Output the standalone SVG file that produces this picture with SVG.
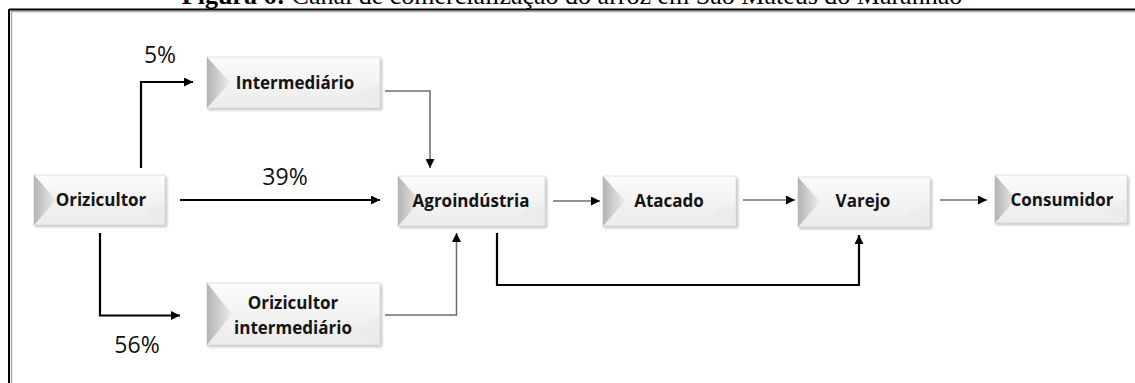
<svg xmlns="http://www.w3.org/2000/svg" width="1135" height="383" viewBox="0 0 1135 383">
<style>
.frame{stroke:#000;stroke-width:2;fill:none}
.frame2{stroke:#aaa;stroke-width:1.5;fill:none}
.title{font-family:"Liberation Serif","Times New Roman",serif;font-size:26px;fill:#000;text-anchor:middle}
.face{fill:url(#face);stroke:#dcdcdc;stroke-width:0.8}
.bevL{fill:url(#bevL)}
.bevR{fill:#e6e6e6;opacity:0.4}
.shadow{fill:#8c8c8c;opacity:0.55;filter:url(#blur)}
.lbl{font-family:"Open Sans","Liberation Sans",sans-serif;font-weight:bold;font-size:17px;fill:#141414;text-anchor:middle}
.pct{font-family:"Open Sans","Liberation Sans",sans-serif;font-size:23px;fill:#111;text-anchor:middle}
.bk{stroke:#000;stroke-width:2.2;fill:none;marker-end:url(#ah)}
.gr{stroke:#6e6e6e;stroke-width:1.5;fill:none;marker-end:url(#ah)}
</style>
<defs>
<linearGradient id="face" x1="0" y1="0" x2="0" y2="1">
<stop offset="0" stop-color="#fbfbfb"/><stop offset="1" stop-color="#ebebeb"/>
</linearGradient>
<linearGradient id="bevL" x1="0" y1="0" x2="1" y2="0">
<stop offset="0" stop-color="#b4b4b4"/><stop offset="1" stop-color="#ececec"/>
</linearGradient>
<filter id="blur" x="-10%" y="-20%" width="120%" height="150%"><feGaussianBlur stdDeviation="1.5"/></filter>
<marker id="ah" viewBox="0 0 10 10" refX="10" refY="5" markerWidth="11" markerHeight="9" markerUnits="userSpaceOnUse" orient="auto">
<path d="M0,0 L10,5 L0,10 z" fill="#000"/>
</marker>
</defs>
<rect width="1135" height="383" fill="#fff"/>
<text class="title" x="572" y="4"><tspan font-weight="bold">Figura 6:</tspan> Canal de comercialização do arroz em São Mateus do Maranhão</text>
<path class="frame2" d="M11,11.5 H1135 M11.5,11 V383"/>
<path class="frame" d="M9,9.5 H1135 M9,9 V383"/>

<g id="orizicultor">
<rect class="shadow" x="35" y="177" width="132" height="50"/>
<rect class="face" x="34" y="175" width="131" height="50"/>
<polygon class="bevL" points="34,175 56,200 34,225"/>
<polygon class="bevR" points="165,225 143,210 165,200"/>
<text class="lbl" x="101" y="206">Orizicultor</text>
</g>
<g id="intermediario">
<rect class="shadow" x="208" y="59" width="174" height="51"/>
<rect class="face" x="207" y="57" width="173" height="51"/>
<polygon class="bevL" points="207,57 230,82.5 207,108"/>
<polygon class="bevR" points="380,108 356,94 380,84"/>
<text class="lbl" x="295" y="89">Intermediário</text>
</g>
<g id="orizicultor-intermediario">
<rect class="shadow" x="208" y="285" width="174" height="62"/>
<rect class="face" x="207" y="283" width="173" height="62"/>
<polygon class="bevL" points="207,283 232,314 207,345"/>
<polygon class="bevR" points="380,345 354,328 380,316"/>
<text class="lbl" x="293" y="309">Orizicultor</text>
<text class="lbl" x="293" y="334">intermediário</text>
</g>
<g id="agroindustria">
<rect class="shadow" x="399" y="178" width="148" height="50"/>
<rect class="face" x="398" y="176" width="147" height="50"/>
<polygon class="bevL" points="398,176 420,201 398,226"/>
<polygon class="bevR" points="545,226 522,212 545,202"/>
<text class="lbl" x="471" y="207">Agroindústria</text>
</g>
<g id="atacado">
<rect class="shadow" x="604" y="178" width="134" height="50"/>
<rect class="face" x="603" y="176" width="133" height="50"/>
<polygon class="bevL" points="603,176 625,201 603,226"/>
<polygon class="bevR" points="736,226 713,212 736,202"/>
<text class="lbl" x="669" y="207">Atacado</text>
</g>
<g id="varejo">
<rect class="shadow" x="799" y="179" width="133" height="50"/>
<rect class="face" x="798" y="177" width="132" height="50"/>
<polygon class="bevL" points="798,177 820,202 798,227"/>
<polygon class="bevR" points="930,227 907,213 930,203"/>
<text class="lbl" x="863" y="207">Varejo</text>
</g>
<g id="consumidor">
<rect class="shadow" x="996" y="177" width="133" height="48"/>
<rect class="face" x="995" y="175" width="132" height="48"/>
<polygon class="bevL" points="995,175 1016,199 995,223"/>
<polygon class="bevR" points="1127,223 1104,209 1127,199"/>
<text class="lbl" x="1062" y="206">Consumidor</text>
</g>

<g id="connectors">
<path class="bk" d="M141,168 V82 H193"/>
<path class="bk" d="M180,200 H380"/>
<path class="bk" d="M100,233 V315.5 H180"/>
<path class="gr" d="M385,91 H430 V168"/>
<path class="gr" d="M385,315 H456.5 V233"/>
<path class="gr" d="M553,201 H600"/>
<path class="gr" d="M743,200 H795"/>
<path class="gr" d="M940,200 H987"/>
<path class="bk" d="M497,233 V285 H859 V235"/>
</g>
<g id="labels">
<text class="pct" x="160" y="63">5%</text>
<text class="pct" x="285" y="185">39%</text>
<text class="pct" x="137" y="353">56%</text>
</g>
</svg>
